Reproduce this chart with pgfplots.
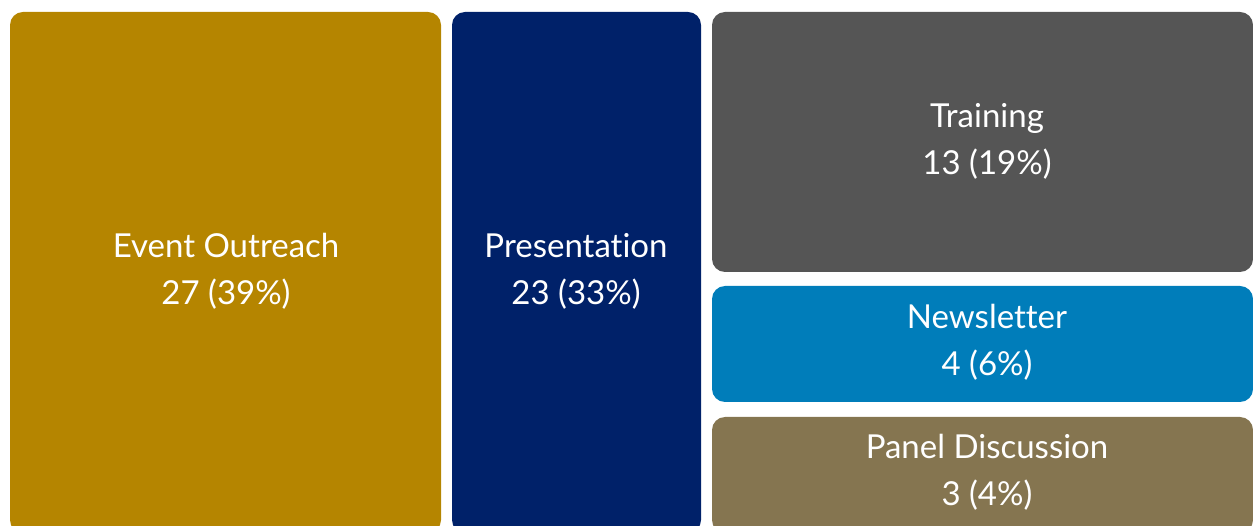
\documentclass[border=0pt]{standalone}
\usepackage{pgfplots}
\pgfplotsset{compat=1.18}
\usepackage{fontspec}
\setmainfont{Lato}[Ligatures=NoCommon]
\definecolor{cGold}{HTML}{B58500}
\definecolor{cNavy}{HTML}{002169}
\definecolor{cGray}{HTML}{555555}
\definecolor{cBlue}{HTML}{007DBA}
\definecolor{cBrown}{HTML}{857550}
\begin{document}
\begin{tikzpicture}
\begin{axis}[
  scale only axis, width=1253pt, height=525pt,
  xmin=0, xmax=1253, ymin=0, ymax=525,
  axis lines=none, clip=true,
]
% Event Outreach
\addplot[draw=none, fill=cGold, rounded corners=13pt] coordinates {(10,513) (441,513) (441,-8) (10,-8)} -- cycle;
% Presentation
\addplot[draw=none, fill=cNavy, rounded corners=13pt] coordinates {(452,513) (701,513) (701,-8) (452,-8)} -- cycle;
% Training
\addplot[draw=none, fill=cGray, rounded corners=13pt] coordinates {(712,513) (1253,513) (1253,253) (712,253)} -- cycle;
% Newsletter
\addplot[draw=none, fill=cBlue, rounded corners=13pt] coordinates {(712,239) (1253,239) (1253,123) (712,123)} -- cycle;
% Panel Discussion
\addplot[draw=none, fill=cBrown, rounded corners=13pt] coordinates {(712,108) (1253,108) (1253,-8) (712,-8)} -- cycle;

\tikzset{lbl/.style={align=center, text=white, font=\fontsize{33}{47}\selectfont}}
\node[lbl] at (axis cs:226,254) {Event Outreach\\27 (39\%)};
\node[lbl] at (axis cs:576,254) {Presentation\\23 (33\%)};
\node[lbl] at (axis cs:987,384) {Training\\13 (19\%)};
\node[lbl] at (axis cs:987,183) {Newsletter\\4 (6\%)};
\node[lbl] at (axis cs:987,53) {Panel Discussion\\3 (4\%)};
\end{axis}
\path (current axis.south west) rectangle (current axis.north east);
\end{tikzpicture}
\end{document}
